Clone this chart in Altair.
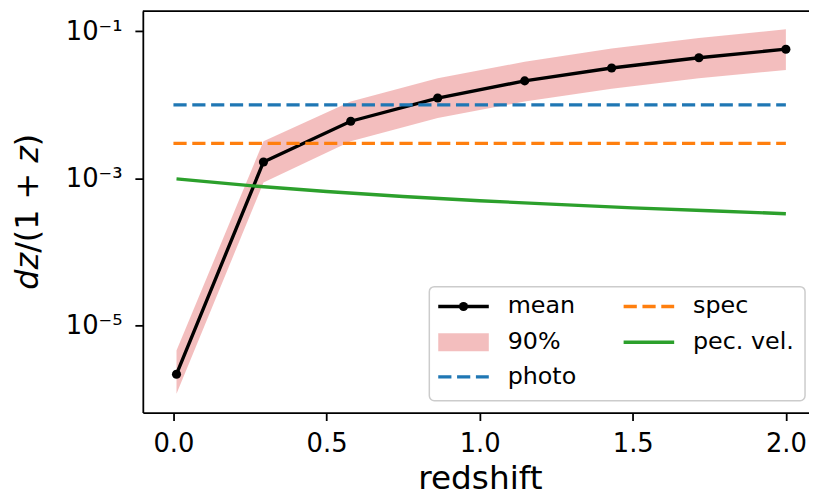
import altair as alt
import pandas as pd

# ---------------- data ----------------
z_mean = [0.01, 0.294, 0.579, 0.863, 1.147, 1.431, 1.716, 2.0]
dz_mean = [2.2e-6, 1.68e-3, 6.0e-3, 0.0124, 0.0212, 0.0317, 0.0437, 0.0571]
dz_lo = [1.19e-6, 8.8e-4, 3.22e-3, 6.64e-3, 0.01114, 0.01653, 0.02296, 0.0298]
dz_hi = [4.6e-6, 3.22e-3, 0.01114, 0.02296, 0.03855, 0.0583, 0.0813, 0.1065]

z_ref = [0.0, 2.0]
dz_photo = [0.01, 0.01]
dz_spec = [0.003, 0.003]

z_pec = [0.01, 0.25, 0.5, 0.75, 1.0, 1.25, 1.5, 1.75, 2.0]
dz_pec = [9.9e-4, 8.0e-4, 6.67e-4, 5.7e-4, 5.0e-4, 4.45e-4, 4.0e-4, 3.65e-4, 3.33e-4]

x_ticks = [0.0, 0.5, 1.0, 1.5, 2.0]
y_ticks = [1e-5, 1e-3, 1e-1]
y_tick_labels = ["10\u207b\u2075", "10\u207b\u00b3", "10\u207b\u00b9"]
legend_labels = ["mean", "90%", "photo", "spec", "pec. vel."]
x_title = "redshift"
y_title_parts = ["dz", "/(1 + ", "z", ")"]
y_title_italic = [True, False, True, False]

# ---------------- styling ----------------
W, H = 672, 405
FONT = "DejaVu Sans"
BLUE, ORANGE, GREEN, RED = "#1f77b4", "#ff7f0e", "#2ca02c", "#d62728"
DASH = [13.3, 5.7]
LW = 3.4

df_mean = pd.DataFrame({"z": z_mean, "m": dz_mean, "lo": dz_lo, "hi": dz_hi})
df_photo = pd.DataFrame({"z": z_ref, "v": dz_photo})
df_spec = pd.DataFrame({"z": z_ref, "v": dz_spec})
df_pec = pd.DataFrame({"z": z_pec, "v": dz_pec})
one = pd.DataFrame({"a": [0]})

xs = alt.Scale(domain=[-0.1, 2.0755], nice=False, zero=False)
ys = alt.Scale(type="log", domain=[10 ** -6.179, 10 ** -0.726], nice=False)

label_expr = " : ".join(
    f"datum.value < {v * 3} ? '{lab}'" for v, lab in zip(y_ticks[:-1], y_tick_labels[:-1])
) + f" : '{y_tick_labels[-1]}'"

x_axis = alt.Axis(values=x_ticks, format=".1f", title=x_title, grid=False,
                  labelFont=FONT, labelFontSize=26, labelColor="black",
                  labelBaseline="alphabetic", labelPadding=31,
                  tickSize=8, tickWidth=1.8, tickColor="black",
                  domainWidth=1.8, domainColor="black",
                  titleFont=FONT, titleFontSize=33, titleFontWeight="normal",
                  titleColor="black", titleBaseline="alphabetic", titleX=340, titleY=77,
                  labelFlush=False)
y_axis = alt.Axis(values=y_ticks, labelExpr=label_expr, title=None, grid=False,
                  labelFont=FONT, labelFontSize=26, labelColor="black",
                  labelPadding=13, labelBaseline="middle",
                  tickSize=8, tickWidth=1.8, tickColor="black",
                  domainWidth=1.8, domainColor="black")

band = alt.Chart(df_mean).mark_area(color=RED, opacity=0.3).encode(
    x=alt.X("z:Q", scale=xs, axis=x_axis),
    y=alt.Y("lo:Q", scale=ys, axis=y_axis),
    y2="hi:Q",
)
mean = alt.Chart(df_mean).mark_line(
    color="black", strokeWidth=LW,
    point=alt.OverlayMarkDef(filled=True, size=85, color="black", opacity=1),
).encode(x="z:Q", y="m:Q")
photo = alt.Chart(df_photo).mark_line(color=BLUE, strokeWidth=LW, strokeDash=DASH).encode(
    x="z:Q", y="v:Q")
spec = alt.Chart(df_spec).mark_line(color=ORANGE, strokeWidth=LW, strokeDash=DASH).encode(
    x="z:Q", y="v:Q")
pec = alt.Chart(df_pec).mark_line(color=GREEN, strokeWidth=LW).encode(x="z:Q", y="v:Q")

# top spine
top = alt.Chart(one).mark_rule(color="black", strokeWidth=1.8).encode(
    x=alt.value(0), x2=alt.value(W), y=alt.value(0))

# y-axis title with math-like italics
parts = []
pos = 281
widths_em = [1.16, 2.837, 0.525, 0.39]
fs_t = 32
for txt, it, wem in zip(y_title_parts, y_title_italic, widths_em):
    parts.append(alt.Chart(one).mark_text(
        font=FONT, fontSize=fs_t, fontStyle="italic" if it else "normal",
        angle=270, align="left", baseline="middle", color="black",
    ).encode(x=alt.value(-116), y=alt.value(pos), text=alt.value(txt)))
    pos -= wem * fs_t

# legend
leg = []
leg.append(alt.Chart(one).mark_rect(
    fill="white", fillOpacity=0.8, stroke="#cccccc", strokeWidth=1.5, cornerRadius=5
).encode(x=alt.value(289), x2=alt.value(668), y=alt.value(278), y2=alt.value(393)))

rows = [298, 334, 369]
c1 = (298, 349, 368)
c2 = (485, 536, 555)
entries = [(c1, rows[0]), (c1, rows[1]), (c1, rows[2]), (c2, rows[0]), (c2, rows[1])]
for i, (lab, ((x0, x1, xt), yy)) in enumerate(zip(legend_labels, entries)):
    if i == 0:
        leg.append(alt.Chart(one).mark_rule(color="black", strokeWidth=LW).encode(
            x=alt.value(x0), x2=alt.value(x1), y=alt.value(yy)))
        leg.append(alt.Chart(one).mark_point(filled=True, size=85, color="black", opacity=1).encode(
            x=alt.value((x0 + x1) / 2), y=alt.value(yy)))
    elif i == 1:
        leg.append(alt.Chart(one).mark_rect(color=RED, opacity=0.3).encode(
            x=alt.value(x0), x2=alt.value(x1), y=alt.value(yy - 9), y2=alt.value(yy + 9)))
    else:
        col = {2: BLUE, 3: ORANGE, 4: GREEN}[i]
        dash = DASH if i in (2, 3) else [1, 0]
        leg.append(alt.Chart(one).mark_rule(color=col, strokeWidth=LW, strokeDash=dash).encode(
            x=alt.value(x0), x2=alt.value(x1), y=alt.value(yy)))
    leg.append(alt.Chart(one).mark_text(
        font=FONT, fontSize=24, align="left", baseline="middle", color="black"
    ).encode(x=alt.value(xt), y=alt.value(yy), text=alt.value(lab)))

chart = alt.layer(band, mean, photo, spec, pec, top, *parts, *leg).properties(
    width=W, height=H,
    autosize=alt.AutoSizeParams(type="none"),
    padding={"left": 136, "top": 1, "right": 0, "bottom": 82},
    background="white",
).configure_view(stroke=None)

chart.save("out.html", embed_options={"renderer": "svg", "actions": False})
